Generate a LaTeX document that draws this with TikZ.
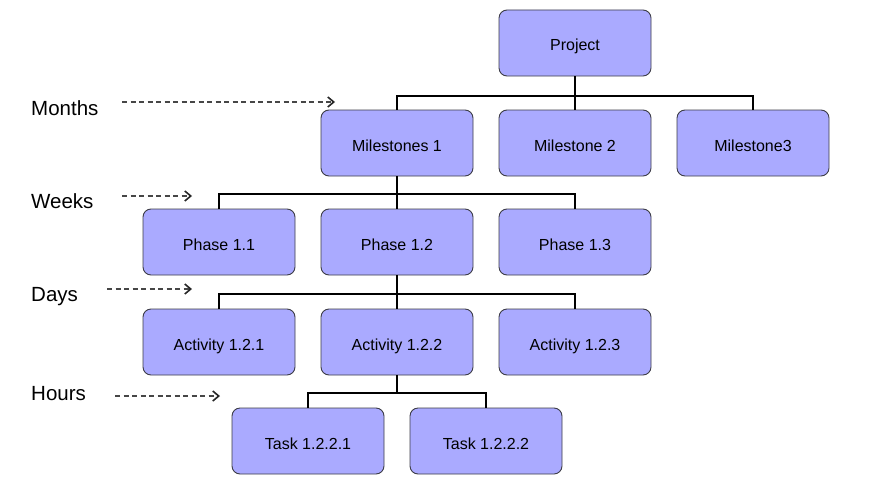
\documentclass[tikz,border=0pt]{standalone}
\usepackage{fontspec}
\setmainfont{Liberation Sans}
\usetikzlibrary{arrows.meta}
\definecolor{boxfill}{RGB}{170,170,255}
\definecolor{boxline}{RGB}{60,60,70}
\tikzset{
  wbsbox/.style={draw=boxline, fill=boxfill, rounded corners=8pt, line width=0.9pt,
    minimum width=152pt, minimum height=66pt, text height=16pt, text depth=0pt,
    font=\fontsize{16}{18}\selectfont},
  link/.style={line width=2pt, black},
  scale label/.style={anchor=base west, font=\fontsize{20.5}{23}\selectfont, inner sep=0pt},
  scale arrow/.style={gray!55!black, line width=1.2pt, dash pattern=on 5pt off 3.5pt,
    -{Straight Barb[length=6pt,width=10pt,line width=1.6pt,black!85]}}
}
\begin{document}
\begin{tikzpicture}[x=1pt,y=-1pt]
  \useasboundingbox (0,0) rectangle (874,495);

  % boxes
  \node [wbsbox] (proj) at (575,43) {Project};
  \node [wbsbox] (m1) at (397,143) {Milestones 1};
  \node [wbsbox] (m2) at (575,143) {Milestone 2};
  \node [wbsbox] (m3) at (753,143) {Milestone3};
  \node [wbsbox] (ph1) at (219,242) {Phase 1.1};
  \node [wbsbox] (ph2) at (397,242) {Phase 1.2};
  \node [wbsbox] (ph3) at (575,242) {Phase 1.3};
  \node [wbsbox] (ac1) at (219,342) {Activity 1.2.1};
  \node [wbsbox] (ac2) at (397,342) {Activity 1.2.2};
  \node [wbsbox] (ac3) at (575,342) {Activity 1.2.3};
  \node [wbsbox] (tk1) at (308,441) {Task 1.2.2.1};
  \node [wbsbox] (tk2) at (486,441) {Task 1.2.2.2};

  % tree lines
  \draw [link] (proj.south) -- ++(0,20) -| (m1.north);
  \draw [link] (proj.south) -- ++(0,20) -| (m3.north);
  \draw [link] (proj.south) -- (m2.north);
  \draw [link] (m1.south) -- ++(0,18) -| (ph1.north);
  \draw [link] (m1.south) -- ++(0,18) -| (ph3.north);
  \draw [link] (m1.south) -- (ph2.north);
  \draw [link] (ph2.south) -- ++(0,19) -| (ac1.north);
  \draw [link] (ph2.south) -- ++(0,19) -| (ac3.north);
  \draw [link] (ph2.south) -- (ac2.north);
  \draw [link] (ac2.south) -- ++(0,18) -| (tk1.north);
  \draw [link] (ac2.south) -- ++(0,18) -| (tk2.north);

  % time scale
  \node [scale label] (months) at (31,115) {Months};
  \node [scale label] (weeks) at (31,208) {Weeks};
  \node [scale label] (days) at (31,301) {Days};
  \node [scale label] (hours) at (31,400) {Hours};
  \coordinate (months-s) at (122,102);
  \coordinate (months-e) at (335,102);
  \coordinate (weeks-s) at (122,196);
  \coordinate (weeks-e) at (192,196);
  \coordinate (days-s) at (107,289);
  \coordinate (days-e) at (192,289);
  \coordinate (hours-s) at (115,396);
  \coordinate (hours-e) at (220,396);
  \draw [scale arrow] (months-s) -- (months-e);
  \draw [scale arrow] (weeks-s) -- (weeks-e);
  \draw [scale arrow] (days-s) -- (days-e);
  \draw [scale arrow] (hours-s) -- (hours-e);
\end{tikzpicture}
\end{document}
